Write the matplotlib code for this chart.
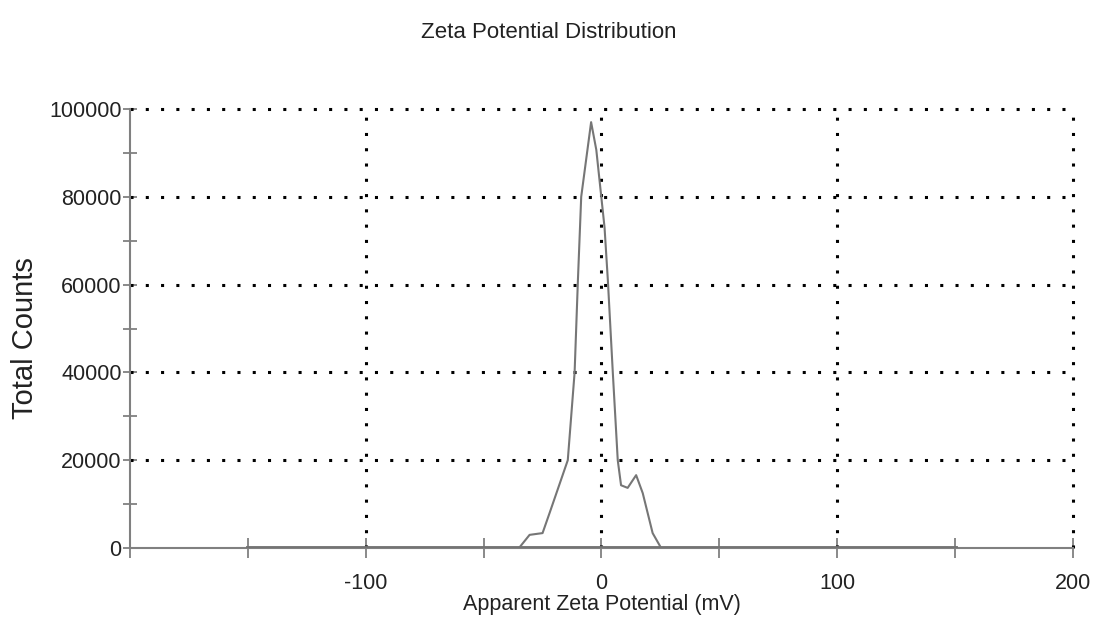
import matplotlib
matplotlib.use("Agg")
import matplotlib.pyplot as plt
from matplotlib.ticker import MultipleLocator

# zeta potential (mV) vs total counts
zeta = [-150, -35, -30.5, -25, -22, -14.3, -11.4, -10, -8.6, -4.4,
        -2.2, 1.3, 2.7, 4.8, 6.9, 8.3, 11.1, 14.7, 17.5, 21.7, 25.3, 150]
counts = [0, 0, 3000, 3400, 8000, 20000, 40000, 61000, 80000, 97000,
          90700, 73000, 61000, 40000, 20000, 14300, 13700, 16600, 12500, 3400, 0, 0]

x_labels = {-100: "-100", 0: "0", 100: "100", 200: "200"}
y_labels = [0, 20000, 40000, 60000, 80000, 100000]

plt.rcParams["font.family"] = ["Liberation Sans", "DejaVu Sans"]

fig = plt.figure(figsize=(10.98, 6.43), dpi=100)
ax = fig.add_axes([0.1184, 0.1477, 0.8588, 0.6828])

ax.plot(zeta, counts, color="#767676", lw=1.5, zorder=3)
ax.plot([-150, 150], [0, 0], color="#737373", lw=3.5, zorder=3)

ax.set_xlim(-200, 200)
ax.set_ylim(0, 100000)

for v in [-100, 0, 100, 200]:
    ax.axvline(v, color="black", lw=2.2, ls=(0, (1, 4)), clip_on=False, zorder=2)
for v in y_labels[1:]:
    ax.axhline(v, color="black", lw=2.2, ls=(0, (1, 4)), clip_on=False, zorder=2)

for s in ["top", "right"]:
    ax.spines[s].set_visible(False)
for s in ["left", "bottom"]:
    ax.spines[s].set_color("#808080")
    ax.spines[s].set_linewidth(1.5)

ax.set_xticks(list(range(-200, 201, 50)))
ax.set_xticklabels([x_labels.get(v, "") for v in range(-200, 201, 50)])
ax.set_yticks(y_labels)
ax.set_yticklabels([str(v) for v in y_labels])
ax.yaxis.set_minor_locator(MultipleLocator(10000))
ax.tick_params(axis="both", which="both", direction="inout", color="#808080",
               width=1.3, labelsize=15.5, labelcolor="#222222")
ax.tick_params(axis="x", which="major", length=14, pad=11)
ax.tick_params(axis="y", which="major", length=10, pad=1)
ax.tick_params(axis="y", which="minor", length=10)

ax.set_xlabel("Apparent Zeta Potential (mV)", fontsize=15.5, color="#222222", labelpad=0)
ax.set_ylabel("Total Counts", fontsize=21, color="#222222")
ax.yaxis.set_label_coords(-0.097, 0.478)
fig.text(0.5, 0.950, "Zeta Potential Distribution", ha="center", va="center",
         fontsize=16, color="#222222")

fig.savefig("out.png", dpi=100)
